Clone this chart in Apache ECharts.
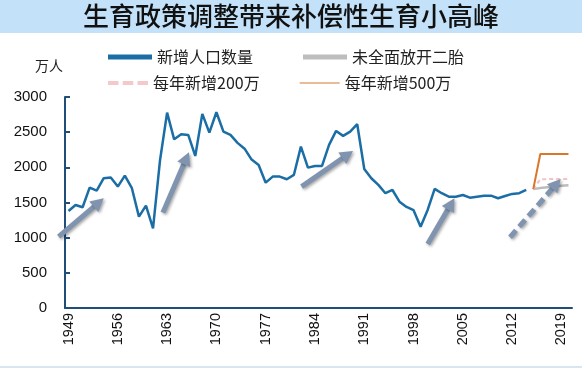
<!DOCTYPE html>
<html>
<head>
<meta charset="utf-8">
<script src="https://cdn.jsdelivr.net/npm/echarts@6/dist/echarts.min.js"></script>
<style>
html,body{margin:0;padding:0;background:#fff;}
#c{width:582px;height:368px;}
</style>
</head>
<body>
<div id="c"></div>
<script>
// ---- data ----
const years = [];
for (let y = 1949; y <= 2020; y++) years.push(String(y));

const births = [1380,1465,1432,1711,1669,1845,1854,1726,1882,1703,
  1299,1456,1133,2105,2778,2398,2470,2461,2162,2760,
  2494,2783,2508,2461,2348,2265,2110,2034,1782,1868,
  1868,1830,1892,2295,1996,2020,2020,2319,2518,2447,
  2508,2613,1977,1845,1750,1632,1678,1512,1437,1390,
  1156,1394,1693,1632,1583,1583,1607,1569,1583,1597,
  1597,1560,1593,1622,1632,1678];
// 2015..2020 scenarios
const noPolicy = [1690,1705,1718,1728,1737,1745];
const plus200  = [1690,1830,1832,1834,1835,1835];
const plus500  = [1690,2190,2190,2190,2190,2190];

const yTicksMax = 3000;
const seriesNames = ['新增人口数量','未全面放开二胎','每年新增200万','每年新增500万'];
// arrows: [yearStart, valueStart, yearEnd, valueEnd, dashed]
const arrows = [
  [1947.6, 1014, 1954.0, 1560, false],
  [1962.4, 1356, 1966.1, 2215, false],
  [1982.1, 1726, 1989.4, 2233, false],
  [2000.0, 910, 2003.8, 1560, false],
  [2011.7, 1006, 2018.9, 1835, true]
];

function pad(arr, startIdx) {
  const out = new Array(years.length).fill(null);
  arr.forEach((v, i) => { out[startIdx + i] = v; });
  return out;
}
const idx2015 = years.indexOf('2015');

const chart = echarts.init(document.getElementById('c'), null, {renderer: 'canvas'});
const FONT = 'Noto Sans CJK SC';
const AXISCOL = '#1f4e79';

chart.setOption({
  animation: false,
  backgroundColor: '#ffffff',
  grid: {left: 65, right: 10, top: 97, bottom: 60, containLabel: false},
  legend: [
    {
      left: 103, top: 44, itemWidth: 44, itemHeight: 5, itemGap: 50, icon: 'rect',
      textStyle: {fontFamily: FONT, fontSize: 16, color: '#222'},
      data: [
        {name: seriesNames[0], itemStyle: {color: '#1b6ea5'}},
        {name: seriesNames[1], itemStyle: {color: '#bdbdbd'}}
      ]
    },
    {
      left: 103, top: 70, itemWidth: 40, itemHeight: 14, itemGap: 40,
      textStyle: {fontFamily: FONT, fontSize: 16, color: '#222'},
      data: [
        {name: seriesNames[2], icon: 'path://M0,0 L10,0 L10,4 L0,4 Z M14,0 L24,0 L24,4 L14,4 Z M28,0 L38,0 L38,4 L28,4 Z', itemStyle: {color: '#f3c9ca'}},
        {name: seriesNames[3], icon: 'path://M0,0 L40,0 L40,1 L0,1 Z', itemStyle: {color: '#d9772b'}}
      ]
    }
  ],
  xAxis: {
    type: 'category',
    data: years,
    boundaryGap: true,
    axisLine: {lineStyle: {color: AXISCOL, width: 2}},
    axisTick: {show: false},
    axisLabel: {
      interval: 6, rotate: 90, margin: 5,
      fontFamily: 'Liberation Sans', fontSize: 14.5, color: '#111'
    },
    splitLine: {show: false}
  },
  yAxis: {
    type: 'value', min: 0, max: yTicksMax, interval: 500,
    name: '万人', nameLocation: 'end', nameGap: 24,
    nameTextStyle: {fontFamily: FONT, fontSize: 14, color: '#222', align: 'right', padding: [0, 2, 0, 0]},
    axisLine: {show: true, lineStyle: {color: AXISCOL, width: 2}},
    axisTick: {show: true, inside: true, length: 5, lineStyle: {color: AXISCOL, width: 2}},
    axisLabel: {fontFamily: 'Liberation Sans', fontSize: 15, color: '#111', margin: 18,
      formatter: v => String(v)},
    splitLine: {show: false}
  },
  series: [
    {
      name: seriesNames[0], type: 'line', data: pad(births, 0),
      symbol: 'none', lineStyle: {color: '#1b6ea5', width: 2.5}, itemStyle: {color: '#1b6ea5'}
    },
    {
      name: seriesNames[1], type: 'line', data: pad(noPolicy, idx2015),
      symbol: 'none', lineStyle: {color: '#bdbdbd', width: 2.5}, itemStyle: {color: '#bdbdbd'}
    },
    {
      name: seriesNames[2], type: 'line', data: pad(plus200, idx2015),
      symbol: 'none', lineStyle: {color: '#f3c3c4', width: 2, type: [4, 3]}, itemStyle: {color: '#f3c3c4'}
    },
    {
      name: seriesNames[3], type: 'line', data: pad(plus500, idx2015),
      symbol: 'none', lineStyle: {color: '#d9772b', width: 2}, itemStyle: {color: '#d9772b'}
    }
  ]
});

// build annotation arrows via axis scales
const pA = chart.convertToPixel({gridIndex: 0}, ['1949', 0]);
const pB = chart.convertToPixel({gridIndex: 0}, ['2020', yTicksMax]);
function toPx(yr, v) {
  return [pA[0] + (yr - 1949) / 71 * (pB[0] - pA[0]), pA[1] + v / yTicksMax * (pB[1] - pA[1])];
}
const graphics = [
  {type: 'rect', left: 0, top: 0, z: -10, shape: {width: 582, height: 33}, style: {fill: '#c3e2f9'}},
  {type: 'rect', left: 0, top: 366, z: -10, shape: {width: 582, height: 2}, style: {fill: '#d6e6f2'}},
  {type: 'text', x: 291, y: 16, z: 10, style: {text: '生育政策调整带来补偿性生育小高峰', font: '500 26px "Noto Sans CJK SC"', fill: '#111', textAlign: 'center', textVerticalAlign: 'middle'}}
];
const ACOL = '#8094b0';
arrows.forEach(a => {
  const s = toPx(a[0], a[1]);
  const e = toPx(a[2], a[3]);
  const dx = e[0] - s[0], dy = e[1] - s[1];
  const L = Math.sqrt(dx * dx + dy * dy);
  const ux = dx / L, uy = dy / L;
  const hl = 13, hw = 7;
  const b = [e[0] - ux * hl, e[1] - uy * hl];
  const shadow = {shadowBlur: 3, shadowColor: 'rgba(0,0,0,0.35)', shadowOffsetX: 1.5, shadowOffsetY: 1.5};
  graphics.push({
    type: 'line', z: 20,
    shape: {x1: s[0], y1: s[1], x2: b[0] + ux * 1, y2: b[1] + uy * 1},
    style: Object.assign({stroke: ACOL, lineWidth: 5, lineDash: a[4] ? [9, 5] : null}, shadow)
  });
  graphics.push({
    type: 'polygon', z: 21,
    shape: {points: [[e[0], e[1]], [b[0] - uy * hw, b[1] + ux * hw], [b[0] + uy * hw, b[1] - ux * hw]]},
    style: Object.assign({fill: ACOL}, shadow)
  });
});
chart.setOption({graphic: graphics});
</script>
</body>
</html>
